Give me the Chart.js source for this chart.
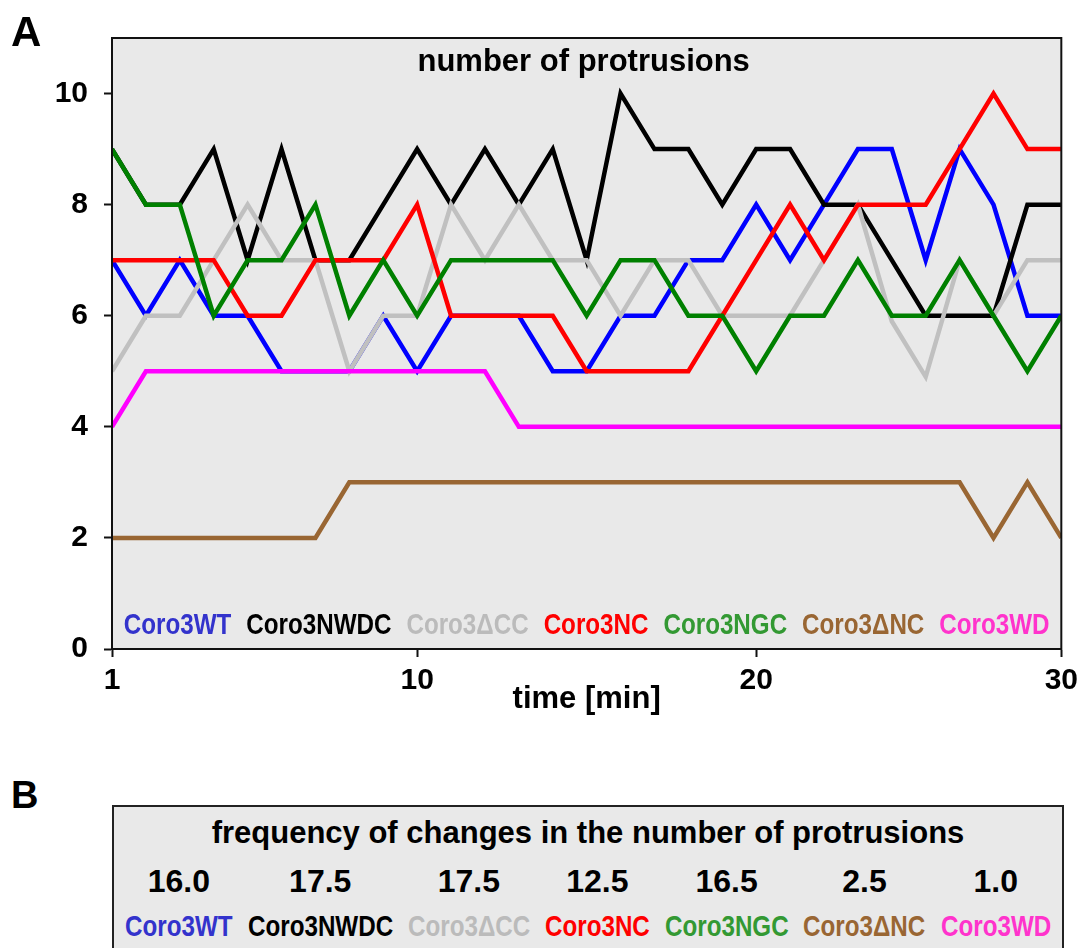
<!DOCTYPE html>
<html>
<head>
<meta charset="utf-8">
<script src="https://cdn.jsdelivr.net/npm/chart.js@4.4.1/dist/chart.umd.min.js"></script>
<style>
  body { margin: 0; background: #fff; width: 1084px; height: 948px; overflow: hidden; position: relative;
         font-family: "Liberation Sans", Arial, sans-serif; font-weight: bold; }
  .panelLetter { position: absolute; font-size: 42px; line-height: 42px; }
  #boxB { position: absolute; left: 112px; top: 805px; width: 948px; height: 160px;
          border: 2px solid #222; background: #e9e9e9; }
  #titleB { position: absolute; left: 112px; width: 952px; top: 817px; text-align: center;
            font-size: 31px; line-height: 31px; }
  #rowsB { position: absolute; left: 112px; width: 952px; top: 865px; display: flex;
           justify-content: center; gap: 15px; }
  .col { display: flex; flex-direction: column; align-items: center; }
  .val { font-size: 32px; line-height: 32px; }
  .lab { font-size: 29.5px; line-height: 29px; margin-top: 14px; white-space: nowrap; overflow: visible; }
  .lab span { display: inline-block; transform: scaleX(0.82); transform-origin: 0 0; }
</style>
</head>
<body>
<canvas id="chartA" width="1084" height="730" style="position:absolute;left:0;top:0"></canvas>
<div class="panelLetter" style="left:11px;top:11px">A</div>
<div class="panelLetter" style="left:11px;top:774px;font-size:38px">B</div>
<div id="boxB"></div>
<div id="titleB">frequency of changes in the number of protrusions</div>
<div id="rowsB"></div>

<script>
// time points (minutes)
var times = [1, 2, 3, 4, 5, 6, 7, 8, 9, 10, 11, 12, 13, 14, 15, 16, 17, 18, 19, 20,
             21, 22, 23, 24, 25, 26, 27, 28, 29];
var xTickValues = [1, 10, 20, 29];
var xTickLabels = ['1', '10', '20', '30'];
var yTickValues = [0, 2, 4, 6, 8, 10];

var names = ['Coro3WT', 'Coro3NWDC', 'Coro3\u0394CC', 'Coro3NC', 'Coro3NGC', 'Coro3\u0394NC', 'Coro3WD'];
var lineColors = ['#0000ff', '#000000', '#c0c0c0', '#ff0000', '#008000', '#996633', '#ff00ff'];
var textColors = ['#3333cc', '#000000', '#bbbbbb', '#ff0000', '#339933', '#996633', '#ff33cc'];

// number of protrusions per time point
var coro3WT   = [7, 6, 7, 6, 6, 5, 5, 5, 6, 5, 6, 6, 6, 5, 5, 6, 6, 7, 7, 8, 7, 8, 9, 9, 7, 9, 8, 6, 6];
var coro3NWDC = [9, 8, 8, 9, 7, 9, 7, 7, 8, 9, 8, 9, 8, 9, 7, 10, 9, 9, 8, 9, 9, 8, 8, 7, 6, 6, 6, 8, 8];
var coro3dCC  = [5, 6, 6, 7, 8, 7, 7, 5, 6, 6, 8, 7, 8, 7, 7, 6, 7, 7, 6, 6, 6, 7, 8, 5.9, 4.9, 7, 6, 7, 7];
var coro3NC   = [7, 7, 7, 7, 6, 6, 7, 7, 7, 8, 6, 6, 6, 6, 5, 5, 5, 5, 6, 7, 8, 7, 8, 8, 8, 9, 10, 9, 9];
var coro3NGC  = [9, 8, 8, 6, 7, 7, 8, 6, 7, 6, 7, 7, 7, 7, 6, 7, 7, 6, 6, 5, 6, 6, 7, 6, 6, 7, 6, 5, 6];
var coro3dNC  = [2, 2, 2, 2, 2, 2, 2, 3, 3, 3, 3, 3, 3, 3, 3, 3, 3, 3, 3, 3, 3, 3, 3, 3, 3, 3, 2, 3, 2];
var coro3WD   = [4, 5, 5, 5, 5, 5, 5, 5, 5, 5, 5, 5, 4, 4, 4, 4, 4, 4, 4, 4, 4, 4, 4, 4, 4, 4, 4, 4, 4];

// frequency of changes (panel B)
var changeFreq = [16.0, 17.5, 17.5, 12.5, 16.5, 2.5, 1.0];

var series = [coro3WT, coro3NWDC, coro3dCC, coro3NC, coro3NGC, coro3dNC, coro3WD];

var boldFont = '"Liberation Sans", Arial, sans-serif';
var narrow = 0.82;   // labels are set in a condensed face

// gray plot area with frame, title and legend drawn inside it
var plotFrame = {
    id: 'plotFrame',
    beforeDraw: function (chart) {
        var a = chart.chartArea, ctx = chart.ctx;
        ctx.save();
        ctx.fillStyle = '#e9e9e9';
        ctx.fillRect(a.left, a.top, a.right - a.left, a.bottom - a.top);
        ctx.restore();
    },
    afterDraw: function (chart) {
        var a = chart.chartArea, ctx = chart.ctx;
        ctx.save();
        ctx.strokeStyle = '#111';
        ctx.lineWidth = 2;
        ctx.strokeRect(a.left, a.top, a.right - a.left, a.bottom - a.top);

        var cx = (a.left + a.right) / 2;
        ctx.fillStyle = '#000';
        ctx.textAlign = 'center';
        ctx.textBaseline = 'alphabetic';
        ctx.font = 'bold 31px ' + boldFont;
        ctx.fillText('number of protrusions', cx - 3, 71);

        ctx.font = 'bold 29.5px ' + boldFont;
        ctx.textAlign = 'left';
        var gap = 15;
        var widths = names.map(function (n) { return ctx.measureText(n).width * narrow; });
        var total = widths.reduce(function (s, w) { return s + w; }, 0) + gap * (names.length - 1);
        var x = cx - total / 2;
        names.forEach(function (n, i) {
            ctx.save();
            ctx.translate(x, 634);
            ctx.scale(narrow, 1);
            ctx.fillStyle = textColors[i];
            ctx.fillText(n, 0, 0);
            ctx.restore();
            x += widths[i] + gap;
        });
        ctx.restore();
    }
};

new Chart(document.getElementById('chartA'), {
    type: 'line',
    data: {
        labels: times,
        datasets: series.map(function (d, i) {
            return {
                label: names[i],
                data: d,
                borderColor: lineColors[i],
                backgroundColor: lineColors[i],
                borderWidth: 4.5,
                pointRadius: 0,
                tension: 0,
                fill: false,
                order: names.length - i
            };
        })
    },
    options: {
        responsive: false,
        animation: false,
        devicePixelRatio: 1,
        layout: { padding: { left: 0, right: 22, top: 38, bottom: 0 } },
        plugins: { legend: { display: false }, title: { display: false }, tooltip: { enabled: false } },
        scales: {
            x: {
                type: 'linear',
                min: 1,
                max: 29,
                afterFit: function (s) { s.height = 81; },
                afterBuildTicks: function (s) { s.ticks = xTickValues.map(function (v) { return { value: v }; }); },
                ticks: {
                    autoSkip: false,
                    maxRotation: 0,
                    padding: 6,
                    color: '#000',
                    font: { family: boldFont, size: 30, weight: 'bold' },
                    callback: function (v, i) { return xTickLabels[i]; }
                },
                grid: { drawOnChartArea: false, drawTicks: true, tickLength: 8, tickColor: '#111', tickWidth: 2 },
                border: { display: true, color: '#111', width: 2 },
                title: {
                    display: true,
                    text: 'time [min]',
                    color: '#000',
                    padding: { top: 0, bottom: 12 },
                    font: { family: boldFont, size: 31, weight: 'bold' }
                }
            },
            y: {
                min: 0,
                max: 11,
                afterFit: function (s) { s.width = 112; },
                afterBuildTicks: function (s) { s.ticks = yTickValues.map(function (v) { return { value: v }; }); },
                ticks: {
                    padding: 16,
                    color: '#000',
                    font: { family: boldFont, size: 30, weight: 'bold' }
                },
                grid: { drawOnChartArea: false, drawTicks: true, tickLength: 8, tickColor: '#111', tickWidth: 2 },
                border: { display: true, color: '#111', width: 2 }
            }
        }
    },
    plugins: [plotFrame]
});

// panel B: values above coloured names
var measure = document.createElement('canvas').getContext('2d');
measure.font = 'bold 29.5px ' + boldFont;
var rows = document.getElementById('rowsB');
names.forEach(function (n, i) {
    var col = document.createElement('div');
    col.className = 'col';
    var v = document.createElement('div');
    v.className = 'val';
    v.textContent = changeFreq[i].toFixed(1);
    var l = document.createElement('div');
    l.className = 'lab';
    l.style.color = textColors[i];
    l.style.width = (measure.measureText(n).width * narrow) + 'px';
    var s = document.createElement('span');
    s.textContent = n;
    l.appendChild(s);
    col.appendChild(v);
    col.appendChild(l);
    rows.appendChild(col);
});
</script>
</body>
</html>
